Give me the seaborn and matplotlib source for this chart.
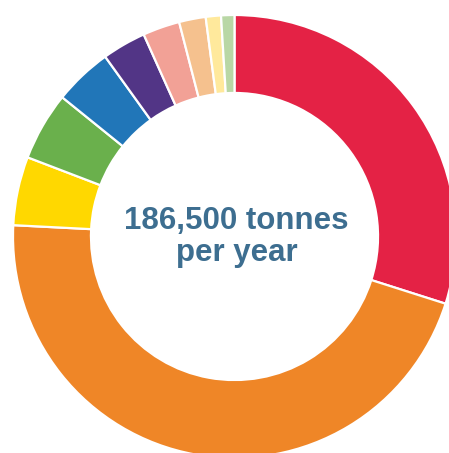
import matplotlib
matplotlib.use("Agg")
import matplotlib.pyplot as plt
import seaborn as sns

sns.set_theme(style="white")

# share of total, clockwise from 12 o'clock
labels = ["red", "orange", "yellow", "green", "blue", "purple",
          "pink", "peach", "light yellow", "light green"]
shares = [29.9, 45.9, 5.0, 5.0, 4.26, 3.2, 2.7, 1.94, 1.11, 0.97]
colors = ["#E42245", "#EF8627", "#FFD800", "#6AB04C", "#2176B8",
          "#523586", "#F2A196", "#F5C18E", "#FFE99C", "#B9D7A5"]
center_lines = ["186,500 tonnes", "per year"]

W, H = 449, 453
fig = plt.figure(figsize=(W / 100, H / 100), dpi=100)
cx, cy, r = 234.5, 236.5, 221.5
ax = fig.add_axes([(cx - r) / W, (H - cy - r) / H, 2 * r / W, 2 * r / H])

ax.pie(shares, colors=colors, startangle=90, counterclock=False, radius=1,
       wedgeprops=dict(width=0.352, edgecolor="white", linewidth=1.6))
ax.set_xlim(-1, 1)
ax.set_ylim(-1, 1)
ax.axis("off")

# baselines of the two centre lines
for txt, yb in zip(center_lines, [0.0325, -0.1106]):
    ax.text(0.01, yb, txt, ha="center", va="baseline", fontsize=22.5,
            fontweight="bold", color="#3D6E90",
            family=["Liberation Sans", "DejaVu Sans"])

fig.savefig("out.png", dpi=100)
